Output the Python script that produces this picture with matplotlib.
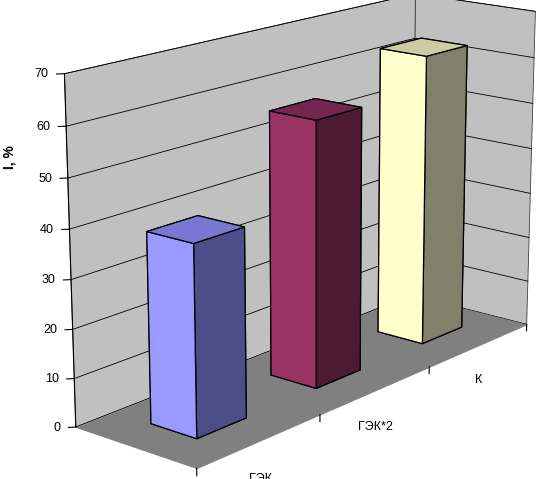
import matplotlib
matplotlib.use('Agg')
import matplotlib.pyplot as plt
from mpl_toolkits.mplot3d.art3d import Poly3DCollection
import numpy as np

plt.rcParams['font.family'] = ['Liberation Sans', 'DejaVu Sans']

categories = ['ГЭК', 'ГЭК*2', 'К']
values = [39, 56, 63]
yticks = [0, 10, 20, 30, 40, 50, 60, 70]
front_colors = ['#9999FF', '#993366', '#FFFFCC']
top_colors = ['#7878D2', '#732650', '#CCCCA6']
side_colors = ['#4D4D8A', '#4D1A33', '#80806B']

fig = plt.figure(figsize=(5.36, 4.79), dpi=100)
ax = fig.add_axes([0.077, 0.048, 1.0, 1.0], projection='3d')
ax.set_proj_type('persp', focal_length=0.85)
ax.view_init(elev=16, azim=-140)
ax.set_xlim(0, 3)
ax.set_ylim(0, 1)
ax.set_zlim(0, 70)
ax.set_box_aspect((3.0, 0.9, 1.97), zoom=1.314)
ax.set_axis_off()
ax.computed_zorder = False

zmax = yticks[-1]
nx = len(categories)
wall_c = '#C0C0C0'
back = [(0, 1, 0), (nx, 1, 0), (nx, 1, zmax), (0, 1, zmax)]
side = [(nx, 0, 0), (nx, 1, 0), (nx, 1, zmax), (nx, 0, zmax)]
floor = [(0, 0, 0), (nx, 0, 0), (nx, 1, 0), (0, 1, 0)]
walls = Poly3DCollection([back, side], facecolors=wall_c, edgecolors='#404040', linewidths=0.6)
walls.set_zorder(1)
ax.add_collection3d(walls)

for z in yticks:
    ax.plot([0, nx, nx], [1, 1, 0], [z, z, z], color='black', lw=0.6, zorder=2)

fl = Poly3DCollection([floor], facecolors='#808080', edgecolors='#808080', linewidths=0.5)
fl.set_zorder(3)
ax.add_collection3d(fl)

# value axis
ax.plot([0, 0], [1, 1], [0, zmax], color='black', lw=0.8, zorder=4)
for z in yticks:
    ax.plot([0, -0.03], [1, 1.03], [z, z], color='black', lw=0.8, zorder=4)
    ax.text(-0.06, 1.06, z, str(z), ha='right', va='center', fontsize=9, zorder=4)

# category axis ticks
for i in range(nx + 1):
    ax.plot([i, i], [0, 0], [0, -1.5], color='black', lw=0.8, zorder=4)

bw, bd = 0.4, 0.38
for i in reversed(range(nx)):
    cols = [front_colors[i], top_colors[i], side_colors[i], side_colors[i], front_colors[i], front_colors[i]]
    ax.bar3d(i + 0.5 - bw / 2, 0.5 - bd / 2, 0, bw, bd, values[i], color=cols,
             shade=False, edgecolor='black', linewidth=0.9, zorder=10 + (nx - i))

for i, c in enumerate(categories):
    ax.text(i + 0.5, 0, -8, c, ha='center', va='center', fontsize=9, zorder=4)

for a in ax.get_children():
    try:
        a.set_clip_on(False)
    except Exception:
        pass

fig.text(0.017, 1 - 157 / 479, 'I, %', rotation=90, fontweight='bold', fontsize=10,
         ha='center', va='center')

fig.savefig('out.png', dpi=100)
